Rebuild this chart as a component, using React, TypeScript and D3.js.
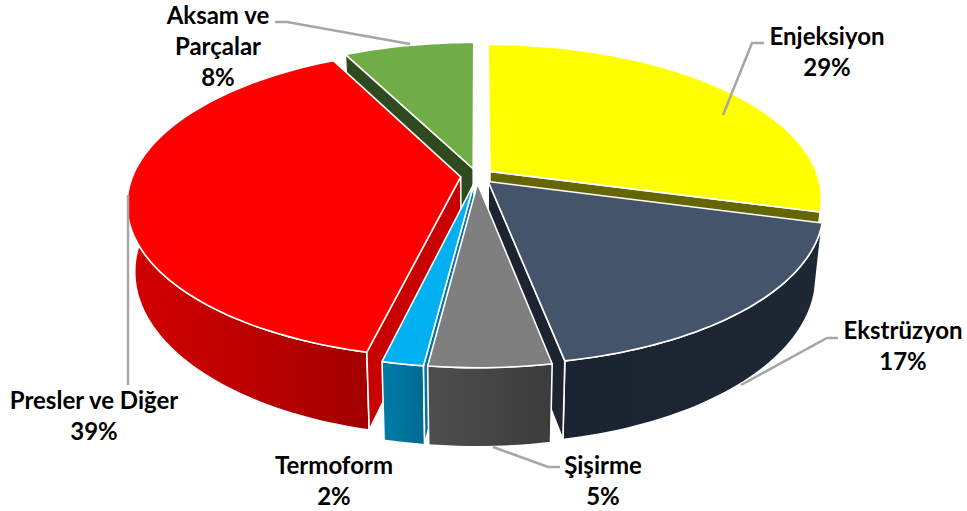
import React from "react";
import * as d3 from "d3";

const categories = ["Enjeksiyon", "Ekstrüzyon", "Şişirme", "Termoform", "Presler ve Diğer", "Aksam ve Parçalar"];
const shares = [29.2, 17.8, 5.0, 1.7, 38.8, 7.5];
const percentLabels = ["29%", "17%", "5%", "2%", "39%", "8%"];
const topColors = ["#FFFF00", "#44546A", "#7F7F7F", "#00B0F0", "#FF0000", "#70AD47"];
const sideColors = ["#666600", "#1B2430", "#3E3E3E", "#00749E", "#C80000", "#2E4A1E"];
const wallFrom = ["#666600", "#1A2330", "#4E4E4E", "#007CA8", "#D40000", "#2E4A1E"];
const wallTo = ["#666600", "#1E2734", "#3C3C3C", "#006A90", "#A20000", "#2E4A1E"];

const W = 967, H = 511;
const cx = 477, cy = 176, R = 328, Rk = 150, persp = 0.17, explode = 0.05, depth = 65, shrink = 0.022;

function project(X: number, Y: number, z = 0): [number, number] {
  const s = 1 / (1 - persp * Y);
  return [cx + R * s * X * (1 - shrink * z), cy + Rk * s * Y + depth * s * z];
}

type Label = { lines: string[]; x: number; y: number };
const labelLayout: Label[] = [
  { lines: ["Enjeksiyon", percentLabels[0]], x: 827, y: 45 },
  { lines: ["Ekstrüzyon", percentLabels[1]], x: 903, y: 339 },
  { lines: ["Şişirme", percentLabels[2]], x: 603, y: 474 },
  { lines: ["Termoform", percentLabels[3]], x: 334, y: 474 },
  { lines: ["Presler ve Diğer", percentLabels[4]], x: 94, y: 409 },
  { lines: ["Aksam ve", "Parçalar", percentLabels[5]], x: 218, y: 24 },
];
const leaderLayout: [number, number][][] = [
  [[764, 43], [752, 43], [723, 115]],
  [[838, 338], [827, 338], [741, 385]],
  [[560, 467], [548, 467], [493, 447]],
  [[128, 195], [128, 385]],
  [[275, 22], [287, 22], [410, 44]],
];

export default function App() {
  const arcs = d3.pie<number>().sort(null).startAngle(0).endAngle(2 * Math.PI)(shares);
  const lineGen = d3.line<[number, number]>();
  const wallMin = (85 * Math.PI) / 180, wallMax = (275 * Math.PI) / 180;
  const items = arcs.map((a, i) => {
    const mid = (a.startAngle + a.endAngle) / 2;
    const dx = explode * Math.sin(mid), dy = -explode * Math.cos(mid);
    const pt = (ang: number, r: number, z = 0) => project(r * Math.sin(ang) + dx, -r * Math.cos(ang) + dy, z);
    const sweep = (from: number, to: number) => {
      const n = Math.max(8, Math.ceil((to - from) * 40));
      return d3.range(n + 1).map((k) => from + ((to - from) * k) / n);
    };
    const apex = pt(0, 0);
    const apexB = pt(0, 0, 1);
    const top = lineGen([apex, ...sweep(a.startAngle, a.endAngle).map((t) => pt(t, 1))])! + "Z";
    const from = Math.max(a.startAngle, wallMin), to = Math.min(a.endAngle, wallMax);
    const range = to > from ? sweep(from, to) : [];
    const outer = range.length
      ? lineGen([...range.map((t) => pt(t, 1)), ...range.map((t) => pt(t, 1, 1)).reverse()])! + "Z"
      : null;
    const radial = (t: number) => lineGen([apex, pt(t, 1), pt(t, 1, 1), apexB])! + "Z";
    const walls: string[] = [];
    if (Math.sin(a.startAngle) < -1e-6) walls.push(radial(a.startAngle));
    if (Math.sin(a.endAngle) > 1e-6) walls.push(radial(a.endAngle));
    return { i, order: -Math.cos(mid), top, outer, walls };
  });
  const ordered = [...items].sort((p, q) => p.order - q.order);
  const font = "Lato, Carlito, Calibri, sans-serif";
  return (
    <svg width={W} height={H} style={{ position: "absolute", left: 0, top: 0 }}>
      <defs>
        {categories.map((_, i) => (
          <linearGradient key={i} id={`w${i}`} x1="0" x2="1" y1="0" y2="0">
            <stop offset="0" stopColor={wallFrom[i]} />
            <stop offset="1" stopColor={wallTo[i]} />
          </linearGradient>
        ))}
      </defs>
      {ordered.map((d) => (
        <g key={d.i} stroke="#fff" strokeWidth={1.6} strokeLinejoin="round">
          {d.outer && <path d={d.outer} fill={`url(#w${d.i})`} />}
          {d.walls.map((w, k) => (
            <path key={k} d={w} fill={sideColors[d.i]} />
          ))}
          <path d={d.top} fill={topColors[d.i]} />
        </g>
      ))}
      {leaderLayout.map((l, i) => (
        <path key={i} d={lineGen(l)!} fill="none" stroke="#A6A6A6" strokeWidth={2.5} />
      ))}
      {labelLayout.map((l, i) => (
        <text key={i} x={l.x} y={l.y} textAnchor="middle" fontFamily={font} fontWeight={700} fontSize={24} fill="#000">
          {l.lines.map((t, j) => (
            <tspan key={j} x={l.x} dy={j === 0 ? 0 : 31}>{t}</tspan>
          ))}
        </text>
      ))}
    </svg>
  );
}
